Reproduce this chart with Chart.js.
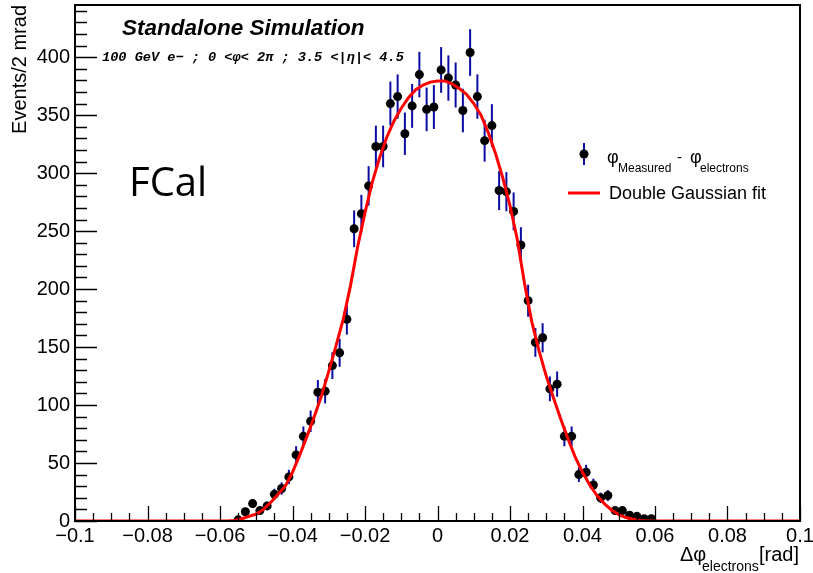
<!DOCTYPE html>
<html>
<head>
<meta charset="utf-8">
<script src="https://cdn.jsdelivr.net/npm/chart.js@4"></script>
<style>
  body { margin: 0; background: #fff; }
  canvas { display: block; }
</style>
</head>
<body>
<canvas id="fcal-chart" width="813" height="573"></canvas>
<script>
// bin centres (2 mrad bins) and counts
const binCenters = [
    -0.055, -0.053, -0.051, -0.049, -0.047, -0.045, -0.043, -0.041, -0.039, -0.037,
    -0.035, -0.033, -0.031, -0.029, -0.027, -0.025, -0.023, -0.021, -0.019, -0.017,
    -0.015, -0.013, -0.011, -0.009, -0.007, -0.005, -0.003, -0.001, 0.001, 0.003,
    0.005, 0.007, 0.009, 0.011, 0.013, 0.015, 0.017, 0.019, 0.021, 0.023,
    0.025, 0.027, 0.029, 0.031, 0.033, 0.035, 0.037, 0.039, 0.041, 0.043,
    0.045, 0.047, 0.049, 0.051, 0.053, 0.055, 0.057, 0.059
];
const counts = [
    1, 8, 15, 9, 13, 23, 28, 38, 57, 73,
    86, 111, 112, 134, 145, 174, 252, 265, 289, 323,
    323, 360, 366, 334, 358, 385, 355, 357, 389, 382,
    376, 354, 404, 366, 328, 341, 285, 284, 267, 238,
    190, 154, 158, 114, 118, 73, 73, 40, 42, 31,
    20, 22, 9, 9, 5, 4, 2, 2
];

// double gaussian fit curve
const fitX = [
    -0.1, -0.06, -0.058, -0.056, -0.054, -0.052, -0.05, -0.048, -0.046, -0.044,
    -0.042, -0.04, -0.038, -0.036, -0.034, -0.032, -0.03, -0.028, -0.026, -0.024,
    -0.022, -0.02, -0.018, -0.016, -0.014, -0.012, -0.01, -0.008, -0.006, -0.004,
    -0.002, 0, 0.002, 0.004, 0.006, 0.008, 0.01, 0.012, 0.014, 0.016,
    0.018, 0.02, 0.022, 0.024, 0.026, 0.028, 0.03, 0.032, 0.034, 0.036,
    0.038, 0.04, 0.042, 0.044, 0.046, 0.048, 0.05, 0.052, 0.054, 0.056,
    0.058, 0.06, 0.1
];
const fitY = [
    0, 0, 0, 0.5, 2, 4, 6, 10, 16, 23,
    30, 42, 57, 73, 90, 108, 129, 151, 174, 203,
    237, 266, 292, 313, 331, 345, 356, 365, 372, 376,
    378.5, 379.5, 379.5, 377, 373, 368, 360, 350, 335, 317,
    296, 272, 243, 205, 172, 147, 125, 106, 88, 71,
    55, 42, 31, 22, 15, 9.5, 5.5, 3, 1.5, 0.5,
    0, 0, 0
];

const xTickLabels = ["\u22120.1", "\u22120.08", "\u22120.06", "\u22120.04", "\u22120.02", "0", "0.02", "0.04", "0.06", "0.08", "0.1"];
const yTickLabels = ["0", "50", "100", "150", "200", "250", "300", "350", "400"];

const errColor = "#0b0ba3";
const sans = "'Liberation Sans', Arial, sans-serif";

// white background
const bgPlugin = {
    id: "bg",
    beforeDraw(chart) {
        const ctx = chart.ctx;
        ctx.save();
        ctx.fillStyle = "#fff";
        ctx.fillRect(0, 0, chart.width, chart.height);
        ctx.restore();
    }
};

// vertical sqrt(N) error bars under the markers
const errorBars = {
    id: "errorBars",
    beforeDatasetsDraw(chart) {
        const ctx = chart.ctx;
        const xs = chart.scales.x, ys = chart.scales.y;
        ctx.save();
        ctx.strokeStyle = errColor;
        ctx.lineWidth = 2;
        for (let i = 0; i < counts.length; i++) {
            const e = Math.sqrt(counts[i]);
            const px = xs.getPixelForValue(binCenters[i]);
            ctx.beginPath();
            ctx.moveTo(px, ys.getPixelForValue(Math.max(0, counts[i] - e)));
            ctx.lineTo(px, ys.getPixelForValue(counts[i] + e));
            ctx.stroke();
        }
        ctx.restore();
    }
};

// ROOT style frame, inner ticks, titles, legend, labels
const decorations = {
    id: "decorations",
    afterDraw(chart) {
        const ctx = chart.ctx;
        const a = chart.chartArea;
        const xs = chart.scales.x, ys = chart.scales.y;
        ctx.save();

        // frame
        ctx.strokeStyle = "#000";
        ctx.lineWidth = 2;
        ctx.strokeRect(a.left, a.top, a.right - a.left, a.bottom - a.top);

        // x ticks
        ctx.lineWidth = 1.3;
        ctx.beginPath();
        for (let i = -100; i <= 100; i += 5) {
            const px = Math.round(xs.getPixelForValue(i / 1000)) + 0.5;
            const len = i % 20 === 0 ? 15 : 8;
            ctx.moveTo(px, a.bottom);
            ctx.lineTo(px, a.bottom - len);
        }
        // y ticks
        for (let v = 0; v <= 440; v += 10) {
            const py = Math.round(ys.getPixelForValue(v)) + 0.5;
            const len = v % 50 === 0 ? 22 : 12;
            ctx.moveTo(a.left, py);
            ctx.lineTo(a.left + len, py);
        }
        ctx.stroke();

        ctx.fillStyle = "#000";
        ctx.textBaseline = "alphabetic";

        // y title
        ctx.save();
        ctx.translate(26, a.top);
        ctx.rotate(-Math.PI / 2);
        ctx.font = "20px " + sans;
        ctx.textAlign = "right";
        ctx.fillText("Events/2 mrad", 0, 0);
        ctx.restore();

        // x title
        ctx.font = "20px " + sans;
        ctx.textAlign = "left";
        ctx.fillText("\u0394\u03c6", 680, 561);
        ctx.font = "14px " + sans;
        ctx.fillText("electrons", 702, 571);
        ctx.font = "20px " + sans;
        ctx.fillText("[rad]", 759, 561);

        // labels inside the frame
        ctx.font = "italic bold 22.5px " + sans;
        ctx.fillText("Standalone Simulation", 122, 35);
        ctx.font = "italic bold 13.6px 'Liberation Mono', 'DejaVu Sans Mono', monospace";
        ctx.fillText("100 GeV e\u2212 ; 0 <\u03c6< 2\u03c0 ; 3.5 <|\u03b7|< 4.5", 102, 61);
        ctx.font = "40px 'Open Sans', 'Noto Sans', sans-serif";
        ctx.fillText("FCal", 129, 196);

        // legend: data entry
        ctx.strokeStyle = errColor;
        ctx.lineWidth = 2;
        ctx.beginPath();
        ctx.moveTo(584, 143);
        ctx.lineTo(584, 165);
        ctx.stroke();
        ctx.fillStyle = "#000";
        ctx.beginPath();
        ctx.arc(584, 154, 4.5, 0, Math.PI * 2);
        ctx.fill();
        ctx.font = "18px " + sans;
        ctx.fillText("\u03c6", 607, 163);
        ctx.font = "12px " + sans;
        ctx.fillText("Measured", 618, 172);
        ctx.font = "15px " + sans;
        ctx.fillText("-", 677, 162);
        ctx.font = "18px " + sans;
        ctx.fillText("\u03c6", 690, 163);
        ctx.font = "12px " + sans;
        ctx.fillText("electrons", 700, 172);

        // legend: fit entry
        ctx.strokeStyle = "#ff0000";
        ctx.lineWidth = 3;
        ctx.beginPath();
        ctx.moveTo(568, 193);
        ctx.lineTo(600, 193);
        ctx.stroke();
        ctx.font = "18px " + sans;
        ctx.fillText("Double Gaussian fit", 609, 199);

        ctx.restore();
    }
};

const canvas = document.getElementById("fcal-chart");

const chart = new Chart(canvas, {
    type: "scatter",
    data: {
        datasets: [
            {
                label: "Double Gaussian fit",
                data: fitX.map((x, i) => ({ x: x, y: fitY[i] })),
                showLine: true,
                borderColor: "#ff0000",
                borderWidth: 3,
                pointRadius: 0,
                tension: 0,
                order: 0
            }, {
                label: "phi measured - phi electrons",
                data: binCenters.map((x, i) => ({ x: x, y: counts[i] })),
                pointRadius: 4.5,
                pointBackgroundColor: "#000",
                pointBorderColor: "#000",
                pointBorderWidth: 0,
                order: 1
            }
        ]
    },
    options: {
        responsive: false,
        animation: false,
        events: [],
        layout: { padding: { left: 0, top: 5, right: 13, bottom: 0 } },
        scales: {
            x: {
                type: "linear",
                min: -0.1,
                max: 0.1,
                afterFit: (scale) => {
                    scale.height = 52;
                    scale.paddingLeft = 0;
                    scale.paddingRight = 0;
                },
                grid: { display: false, drawTicks: false },
                border: { display: false },
                ticks: {
                    stepSize: 0.02,
                    maxRotation: 0,
                    autoSkip: false,
                    padding: 3,
                    color: "#000",
                    font: { family: sans, size: 20 },
                    callback: (v) => xTickLabels[Math.round((v + 0.1) / 0.02)]
                }
            },
            y: {
                type: "linear",
                min: 0,
                max: 445,
                afterFit: (scale) => {
                    scale.width = 75;
                    scale.paddingTop = 0;
                    scale.paddingBottom = 0;
                },
                grid: { display: false, drawTicks: false },
                border: { display: false },
                ticks: {
                    stepSize: 50,
                    includeBounds: false,
                    padding: 5,
                    color: "#000",
                    font: { family: sans, size: 20 },
                    callback: (v) => yTickLabels[Math.round(v / 50)]
                }
            }
        },
        plugins: {
            legend: { display: false },
            tooltip: { enabled: false }
        }
    },
    plugins: [bgPlugin, errorBars, decorations]
});
</script>
</body>
</html>
